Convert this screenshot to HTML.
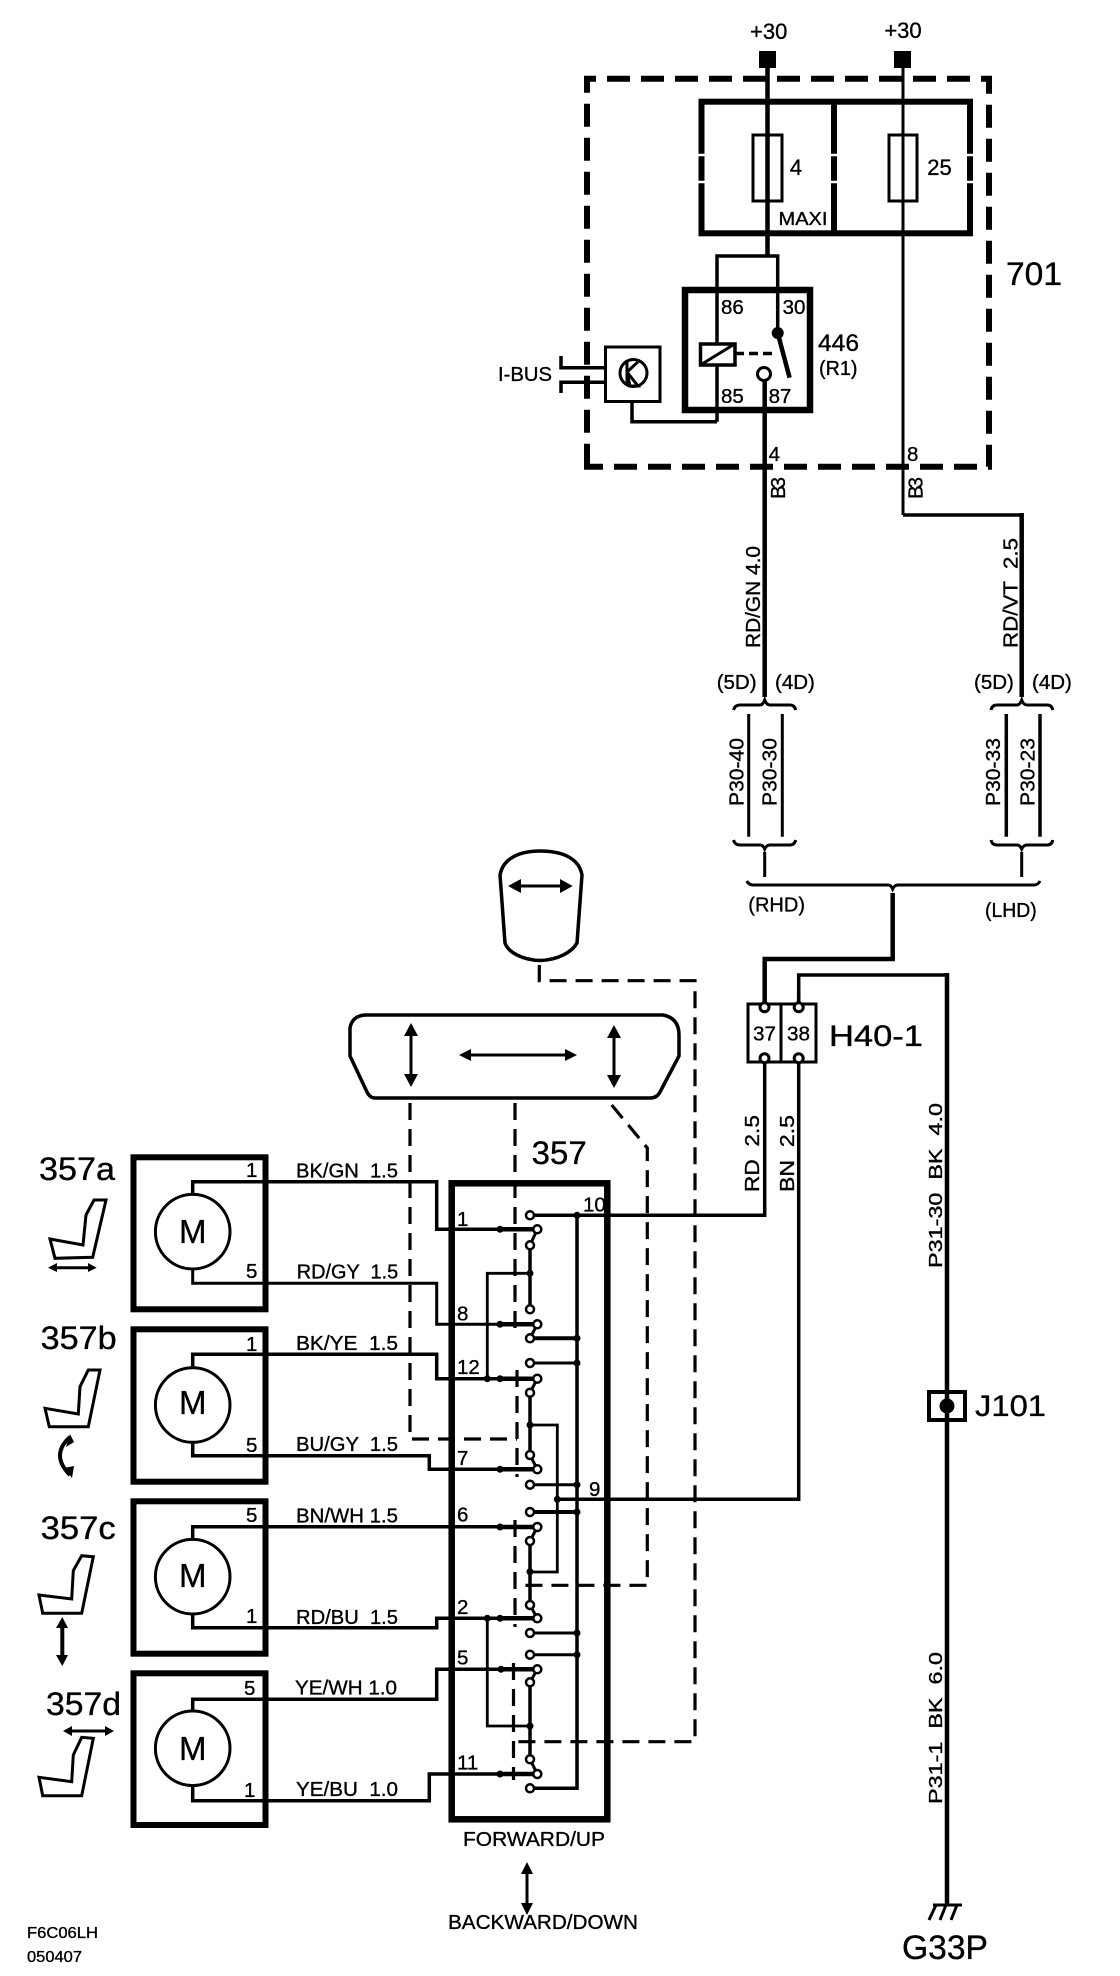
<!DOCTYPE html>
<html><head><meta charset="utf-8"><style>
html,body{margin:0;padding:0;background:#fff}
svg{display:block}
text{font-family:"Liberation Sans",sans-serif;font-size:20.5px;fill:#000;stroke:#000;stroke-width:.35}
.w{fill:none;stroke:#000;stroke-width:3}
.t{fill:none;stroke:#000;stroke-width:4.5}
.d{fill:none;stroke:#000;stroke-width:3.2;stroke-dasharray:17 9}
.c{fill:#fff;stroke:#000;stroke-width:3}
</style></head><body>
<svg width="1120" height="1976" viewBox="0 0 1120 1976" xmlns="http://www.w3.org/2000/svg">
<rect width="1120" height="1976" fill="#fff"/>

<!-- top -->
<text x="768.7" y="39" text-anchor="middle" style="font-size:22px">+30</text>
<text x="903" y="38" text-anchor="middle" style="font-size:22px">+30</text>
<rect x="759" y="51" width="17" height="17"/><rect x="894" y="51" width="17" height="17"/>
<path d="M587 466.7V78.7H989V466.7H587Z" fill="none" stroke="#000" stroke-width="6" stroke-dasharray="23 11"/>
<path d="M767.5 60V255" class="t"/>
<path d="M903 60V515" class="w"/>
<path d="M903 515H1021.7" class="w" style="stroke-width:3.5"/>
<path d="M1021.7 513V697" class="t"/>
<rect x="701.5" y="101.7" width="268.5" height="131.6" fill="none" stroke="#000" stroke-width="6"/>
<path d="M834 100V233" fill="none" stroke="#000" stroke-width="6"/>
<path d="M698 155H705M698 182H705M831 155H837M831 182H837M967 155H973M967 182H973" stroke="#fff" stroke-width="2.5"/>
<rect x="753" y="135" width="29" height="66" fill="none" stroke="#000" stroke-width="3"/>
<rect x="889" y="135" width="28" height="66" fill="none" stroke="#000" stroke-width="3"/>
<text x="796" y="175" text-anchor="middle" style="font-size:22px">4</text>
<text x="939.5" y="175" text-anchor="middle" style="font-size:22px">25</text>
<text x="778.5" y="225" textLength="49" lengthAdjust="spacingAndGlyphs" style="font-size:18px">MAXI</text>
<text x="1006" y="285" textLength="56" lengthAdjust="spacingAndGlyphs" style="font-size:32px">701</text>

<!-- relay -->
<path d="M717 421.7V256H777.7V333" class="w" style="stroke-width:3.5"/>
<rect x="685" y="290" width="125" height="120" fill="none" stroke="#000" stroke-width="6.5"/>
<rect x="700.5" y="344" width="34.5" height="21" fill="#fff" stroke="#000" stroke-width="3.5"/>
<path d="M702 364L733 345" class="w"/>
<path d="M735 353.5H776" class="w" style="stroke-width:3.5;stroke-dasharray:9 5"/>
<circle cx="777.7" cy="333" r="6"/>
<path d="M777.7 333L789.6 377.7" class="t"/>
<circle cx="764" cy="374" r="6.5" class="c"/>
<path d="M764.7 380.5V697" class="t"/>
<text x="721" y="314">86</text><text x="782.6" y="314">30</text>
<text x="721" y="403">85</text><text x="768.6" y="403">87</text>
<text x="818" y="351" textLength="41" lengthAdjust="spacingAndGlyphs" style="font-size:24px">446</text>
<text x="819" y="375" textLength="38.5" lengthAdjust="spacingAndGlyphs">(R1)</text>
<text x="498" y="381" textLength="54" lengthAdjust="spacingAndGlyphs">I-BUS</text>
<rect x="605.5" y="347" width="54.5" height="54.5" fill="#fff" stroke="#000" stroke-width="3"/>
<path d="M561 356V367.7H605M561 393V382.3H605" fill="none" stroke="#000" stroke-width="3.5"/>
<circle cx="633.5" cy="373" r="13.5" fill="none" stroke="#000" stroke-width="3"/>
<path d="M627 360V386M627 372L640 360M627 372L638 386L630 386Z" fill="none" stroke="#000" stroke-width="3"/>
<path d="M632 402V421.7H717" class="w" style="stroke-width:3.5"/>
<text x="768.6" y="461">4</text><text x="907" y="461">8</text>
<text transform="translate(785,499) rotate(-90)" textLength="22">B3</text>
<text transform="translate(922.7,499) rotate(-90)" textLength="22">B3</text>

<!-- harness -->
<text transform="translate(760,648) rotate(-90)" textLength="102" lengthAdjust="spacingAndGlyphs">RD/GN 4.0</text>
<text transform="translate(1017.3,648) rotate(-90)" textLength="110" lengthAdjust="spacingAndGlyphs" xml:space="preserve">RD/VT  2.5</text>
<text x="716.7" y="689">(5D)</text><text x="775" y="689">(4D)</text>
<text x="974" y="689">(5D)</text><text x="1032" y="689">(4D)</text>
<path d="M733.5 710Q735 705 740 705H760Q763 705 764.7 700Q766.5 705 770 705H790Q794.5 705 795.7 710M991 710Q992 705 997 705H1017Q1020 705 1021.7 700Q1023.5 705 1027 705H1047Q1052 705 1052.7 710" fill="none" stroke="#000" stroke-width="3"/>
<path d="M733.5 840Q735 845 740 845H760Q763 845 764.7 849Q766.5 845 770 845H790Q794.5 845 795.7 840M991 840Q992 845 997 845H1017Q1020 845 1021.7 849Q1023.5 845 1027 845H1047Q1052 845 1052.7 840" fill="none" stroke="#000" stroke-width="3"/>
<path d="M748.7 714V836.7M782.3 714V836.7" class="w"/>
<path d="M1006.3 714V836.7M1040 714V836.7" class="w" style="stroke-width:3.5"/>
<text transform="translate(743.3,806) rotate(-90)" textLength="68" lengthAdjust="spacingAndGlyphs">P30-40</text>
<text transform="translate(776.7,806) rotate(-90)" textLength="68" lengthAdjust="spacingAndGlyphs">P30-30</text>
<text transform="translate(1000,806) rotate(-90)" textLength="68" lengthAdjust="spacingAndGlyphs">P30-33</text>
<text transform="translate(1034.3,806) rotate(-90)" textLength="68" lengthAdjust="spacingAndGlyphs">P30-23</text>
<path d="M764.7 852V877M1021.7 852V877" class="w"/>
<path d="M746.7 881Q749 885 753 885H888Q891 885 892.7 889Q894.5 885 898 885H1034Q1038 885 1040 881" fill="none" stroke="#000" stroke-width="3"/>
<text x="748.3" y="911.5" textLength="56.7" lengthAdjust="spacingAndGlyphs">(RHD)</text>
<text x="985" y="917" textLength="51.7" lengthAdjust="spacingAndGlyphs">(LHD)</text>
<path d="M892.7 893V959H764.7V1004" class="t"/>
<path d="M798.7 1004V975H947" class="w" style="stroke-width:3.5"/>
<path d="M947 973V1905" class="t"/>

<!-- H40 -->
<rect x="748" y="1004" width="68" height="58" fill="#fff" stroke="#000" stroke-width="3"/>
<path d="M781 1004V1062" class="w"/>
<path d="M764.7 990V1004M798.7 990V1004" stroke="#000" stroke-width="3.5"/>
<circle cx="764.5" cy="1007.3" r="4.5" class="c"/><circle cx="798.7" cy="1007.3" r="4.5" class="c"/>
<circle cx="764.5" cy="1058.3" r="4.5" class="c"/><circle cx="798.7" cy="1058.3" r="4.5" class="c"/>
<text x="753" y="1040.7" textLength="23" lengthAdjust="spacingAndGlyphs">37</text>
<text x="787" y="1040.7" textLength="23" lengthAdjust="spacingAndGlyphs">38</text>
<text x="829" y="1046" textLength="94" lengthAdjust="spacingAndGlyphs" style="font-size:30px">H40-1</text>
<path d="M764.7 1063V1215.3H530" class="w" style="stroke-width:3.5"/>
<path d="M798.7 1063V1499.3H557.3" class="w" style="stroke-width:3.5"/>
<text transform="translate(759,1192) rotate(-90)" textLength="77" lengthAdjust="spacingAndGlyphs" xml:space="preserve">RD  2.5</text>
<text transform="translate(794,1192) rotate(-90)" textLength="77" lengthAdjust="spacingAndGlyphs" xml:space="preserve">BN  2.5</text>

<!-- head rest + back rest -->
<path d="M500 875C503 858 520 851 540 851C562 851 579 858 582 875L577 943C572 952 558 960 540 960.5C522 960 508 952 505 943Z" fill="none" stroke="#000" stroke-width="3.5"/>
<path d="M520 886H561" class="w"/><path d="M508 886L521 879V893ZM572.7 886L560 879V893Z"/>
<path d="M365 1015H663Q679 1018 679 1035V1056L660 1092Q657 1098 650 1098H375Q370 1098 367 1092L350 1056V1028Q352 1016 365 1015Z" fill="none" stroke="#000" stroke-width="3.5"/>
<path d="M411 1035V1075" class="w"/><path d="M411 1023L404 1036H418ZM411 1087L404 1074H418Z"/>
<path d="M469 1055H567" class="w"/><path d="M459 1055L471 1049V1061ZM577 1055L565 1049V1061Z"/>
<path d="M614 1037V1076" class="w"/><path d="M614 1025L607 1038H621ZM614 1088L607 1075H621Z"/>
<path d="M539.3 965V980.7H695V1741.7H516" class="d"/>
<path d="M410 1103V1439H517" class="d"/>
<path d="M515 1103V1333" class="d"/>
<path d="M517 1370V1477M515 1520V1627M513.5 1663V1780" class="d"/>
<path d="M611.7 1105L647.3 1148V1585.3H516" class="d"/>

<!-- motors -->
<g fill="none" stroke="#000" stroke-width="6">
<rect x="133.5" y="1157.3" width="132" height="152"/>
<rect x="133.5" y="1329.3" width="132" height="152.4"/>
<rect x="133.5" y="1501.3" width="132" height="152.4"/>
<rect x="133.5" y="1673.3" width="132" height="151.7"/>
</g>
<g fill="none" stroke="#000" stroke-width="3">
<circle cx="192.7" cy="1231.7" r="37.3"/><circle cx="192.7" cy="1405" r="37.3"/>
<circle cx="192.7" cy="1576.7" r="37.3"/><circle cx="192.7" cy="1748.3" r="37.3"/>
</g>
<path d="M192.7 1194V1181.7H436.7V1229.3H500" class="t" style="stroke-width:3.5"/>
<path d="M192.7 1269V1283.3H436.7V1324.3H500" class="t" style="stroke-width:3"/>
<path d="M192.7 1367V1354.3H436.7V1378.7H500" class="t" style="stroke-width:3.5"/>
<path d="M192.7 1442V1455.7H429.3V1469.3H500" class="t" style="stroke-width:3.5"/>
<path d="M192.7 1539V1526.7H500" class="t" style="stroke-width:3.5"/>
<path d="M192.7 1614V1627.7H436.7V1618.3H500" class="t" style="stroke-width:3.5"/>
<path d="M192.7 1711V1699.3H436.7V1669.3H500" class="t" style="stroke-width:3.5"/>
<path d="M192.7 1786V1800.7H429.3V1774H500" class="t" style="stroke-width:3.5"/>
<text x="192.7" y="1243" text-anchor="middle" style="font-size:33px">M</text>
<text x="192.7" y="1414" text-anchor="middle" style="font-size:33px">M</text>
<text x="192.7" y="1587" text-anchor="middle" style="font-size:33px">M</text>
<text x="192.7" y="1760" text-anchor="middle" style="font-size:33px">M</text>
<text x="246" y="1177">1</text><text x="246" y="1278">5</text>
<text x="246" y="1351">1</text><text x="246" y="1452">5</text>
<text x="246" y="1522">5</text><text x="246" y="1623">1</text>
<text x="244" y="1695">5</text><text x="244" y="1797">1</text>
<text x="296" y="1177.3" textLength="102" lengthAdjust="spacingAndGlyphs" xml:space="preserve">BK/GN  1.5</text>
<text x="296.7" y="1278.3" textLength="101.5" lengthAdjust="spacingAndGlyphs" xml:space="preserve">RD/GY  1.5</text>
<text x="296" y="1350" textLength="102" lengthAdjust="spacingAndGlyphs" xml:space="preserve">BK/YE  1.5</text>
<text x="296" y="1451" textLength="102" lengthAdjust="spacingAndGlyphs" xml:space="preserve">BU/GY  1.5</text>
<text x="296" y="1522.3" textLength="102" lengthAdjust="spacingAndGlyphs">BN/WH 1.5</text>
<text x="296" y="1624" textLength="102" lengthAdjust="spacingAndGlyphs" xml:space="preserve">RD/BU  1.5</text>
<text x="295" y="1694.3" textLength="102" lengthAdjust="spacingAndGlyphs">YE/WH 1.0</text>
<text x="296" y="1796" textLength="102" lengthAdjust="spacingAndGlyphs" xml:space="preserve">YE/BU  1.0</text>
<text x="39" y="1180" textLength="76" lengthAdjust="spacingAndGlyphs" style="font-size:32px">357a</text>
<text x="40.7" y="1349" textLength="76" lengthAdjust="spacingAndGlyphs" style="font-size:32px">357b</text>
<text x="40.7" y="1539" textLength="75" lengthAdjust="spacingAndGlyphs" style="font-size:32px">357c</text>
<text x="46" y="1715" textLength="75" lengthAdjust="spacingAndGlyphs" style="font-size:32px">357d</text>
<g fill="none" stroke="#000" stroke-width="3">
<path d="M50 1239L83 1245L86 1215L94 1200H106L92.7 1257.3L55 1258.3Z"/>
<path d="M45 1408.3L78.3 1414L80 1386.7L88.3 1370H100L88.3 1426.7H49.3Z"/>
<path d="M39 1595L71.7 1599L73.3 1570.7L81.7 1555.7L93.3 1556.7L81.7 1613.3H42.7Z"/>
<path d="M39 1777.3L71.7 1781.7L73.3 1755L81.7 1737.3L93.3 1738.3L81.7 1795.7H42.7Z"/>
<path d="M54 1267.7H91"/><path d="M70 1437Q50 1455 70 1475" style="stroke-width:4"/>
<path d="M62.3 1625V1660" style="stroke-width:4"/><path d="M70 1731H108"/>
</g>
<path d="M48 1267.7L57 1263V1272ZM96.7 1267.7L88 1263V1272ZM62.3 1617L56 1628H68ZM62.3 1666L56 1655H68ZM63 1731L72 1726V1736ZM114 1731L105 1726V1736Z"/>
<path d="M70 1434L66 1447L74 1442ZM72 1478L64 1468L74 1466Z"/>

<!-- switch pack -->
<rect x="451.7" y="1183.3" width="155.6" height="636" fill="none" stroke="#000" stroke-width="6.5"/>
<text x="531.7" y="1164" textLength="55" lengthAdjust="spacingAndGlyphs" style="font-size:32px">357</text>
<path d="M577 1215.3V1788.3H530" class="w" style="stroke-width:3.5"/>
<path d="M530 1245V1309M530 1392V1455M530 1541V1605M530 1682V1759" class="w" style="stroke-width:3.5"/>
<path d="M530 1273.3H487.3V1378.7M530 1425H557.3V1572H530M487.3 1618.3V1726H530" class="w" style="stroke-width:2.8"/>
<path d="M500 1229.3H537M500 1324.3H537M500 1378.7H537M500 1469.3H537M500 1527H537M500 1618.3H537M500 1669.3H537M500 1774H537" class="t"/>
<path d="M537.3 1229.3L530 1245.3M537.3 1324.3L530 1338.3M537.3 1378.7L530 1392.7M537.3 1469.3L530 1455M537.3 1527L530 1541M537.3 1618.3L530 1605M537.3 1669.3L530 1682.3M537.3 1774L530 1759.3" class="w"/>
<path d="M530 1338.3H577M530 1512H577" class="t" style="stroke-width:4"/>
<path d="M530 1363H577M530 1484.7H577M530 1633H577M530 1654.7H577" class="w"/>
<circle cx="577" cy="1215.3" r="3.5"/><circle cx="530" cy="1273.3" r="3.5"/><circle cx="577" cy="1338.3" r="3.5"/><circle cx="577" cy="1363" r="3.5"/><circle cx="530" cy="1425" r="3.5"/><circle cx="577" cy="1484.7" r="3.5"/><circle cx="557.3" cy="1499.3" r="3.5"/><circle cx="577" cy="1512" r="3.5"/><circle cx="530" cy="1571.7" r="3.5"/><circle cx="577" cy="1633" r="3.5"/><circle cx="577" cy="1654.7" r="3.5"/><circle cx="530" cy="1726" r="3.5"/>
<circle cx="500" cy="1229.3" r="3.5"/><circle cx="500" cy="1324.3" r="3.5"/><circle cx="500" cy="1378.7" r="3.5"/><circle cx="487.3" cy="1378.7" r="3.5"/><circle cx="500" cy="1469.3" r="3.5"/><circle cx="500" cy="1527" r="3.5"/><circle cx="500" cy="1618.3" r="3.5"/><circle cx="487.3" cy="1618.3" r="3.5"/><circle cx="501" cy="1669.3" r="3.5"/><circle cx="500" cy="1774" r="3.5"/>
<g class="c" style="stroke-width:2.5">
<circle cx="530" cy="1215.3" r="4"/><circle cx="537.3" cy="1229.3" r="4"/><circle cx="530" cy="1245.3" r="4"/><circle cx="530" cy="1309.3" r="4"/>
<circle cx="537.3" cy="1324.3" r="4"/><circle cx="530" cy="1338.3" r="4"/><circle cx="530" cy="1363" r="4"/><circle cx="537.3" cy="1378.7" r="4"/><circle cx="530" cy="1392.7" r="4"/>
<circle cx="530" cy="1455" r="4"/><circle cx="537.3" cy="1469.3" r="4"/><circle cx="530" cy="1484.7" r="4"/><circle cx="530" cy="1512" r="4"/><circle cx="537.3" cy="1527" r="4"/><circle cx="530" cy="1541" r="4"/>
<circle cx="530" cy="1605" r="4"/><circle cx="537.3" cy="1618.3" r="4"/><circle cx="530" cy="1633" r="4"/><circle cx="530" cy="1654.7" r="4"/><circle cx="537.3" cy="1669.3" r="4"/><circle cx="530" cy="1682.3" r="4"/><circle cx="530" cy="1759.3" r="4"/><circle cx="537.3" cy="1774" r="4"/><circle cx="530" cy="1788.3" r="4"/>
</g>
<text x="457" y="1226">1</text><text x="457" y="1320.7">8</text><text x="457" y="1374">12</text><text x="457" y="1465">7</text>
<text x="583" y="1211.7">10</text><text x="589" y="1496">9</text>
<text x="457" y="1521.7">6</text><text x="457" y="1614">2</text><text x="457" y="1664.3">5</text><text x="457" y="1769.3">11</text>
<text x="463" y="1846" textLength="142" lengthAdjust="spacingAndGlyphs">FORWARD/UP</text>
<path d="M527 1872V1905" class="w"/><path d="M527 1862L521 1874H533ZM527 1915L521 1903H533Z"/>
<text x="448" y="1929" textLength="190" lengthAdjust="spacingAndGlyphs">BACKWARD/DOWN</text>
<text x="27" y="1938" textLength="71" lengthAdjust="spacingAndGlyphs" style="font-size:16px">F6C06LH</text>
<text x="27" y="1962" textLength="55" lengthAdjust="spacingAndGlyphs" style="font-size:16px">050407</text>

<!-- right column -->
<text transform="translate(942,1268) rotate(-90)" textLength="165" lengthAdjust="spacingAndGlyphs" xml:space="preserve" style="font-size:18px">P31-30  BK  4.0</text>
<text transform="translate(942,1804) rotate(-90)" textLength="152" lengthAdjust="spacingAndGlyphs" xml:space="preserve" style="font-size:18px">P31-1  BK  6.0</text>
<rect x="929" y="1392" width="36" height="28" fill="none" stroke="#000" stroke-width="4"/>
<circle cx="947" cy="1406" r="7.5"/>
<text x="975" y="1416" textLength="71" lengthAdjust="spacingAndGlyphs" style="font-size:30px">J101</text>
<path d="M933 1905H962M936 1905L929 1920M946 1905L940 1920M957 1905L951 1920" fill="none" stroke="#000" stroke-width="3"/>
<text x="902" y="1959" textLength="86" lengthAdjust="spacingAndGlyphs" style="font-size:34px">G33P</text>
</svg>
</body></html>
